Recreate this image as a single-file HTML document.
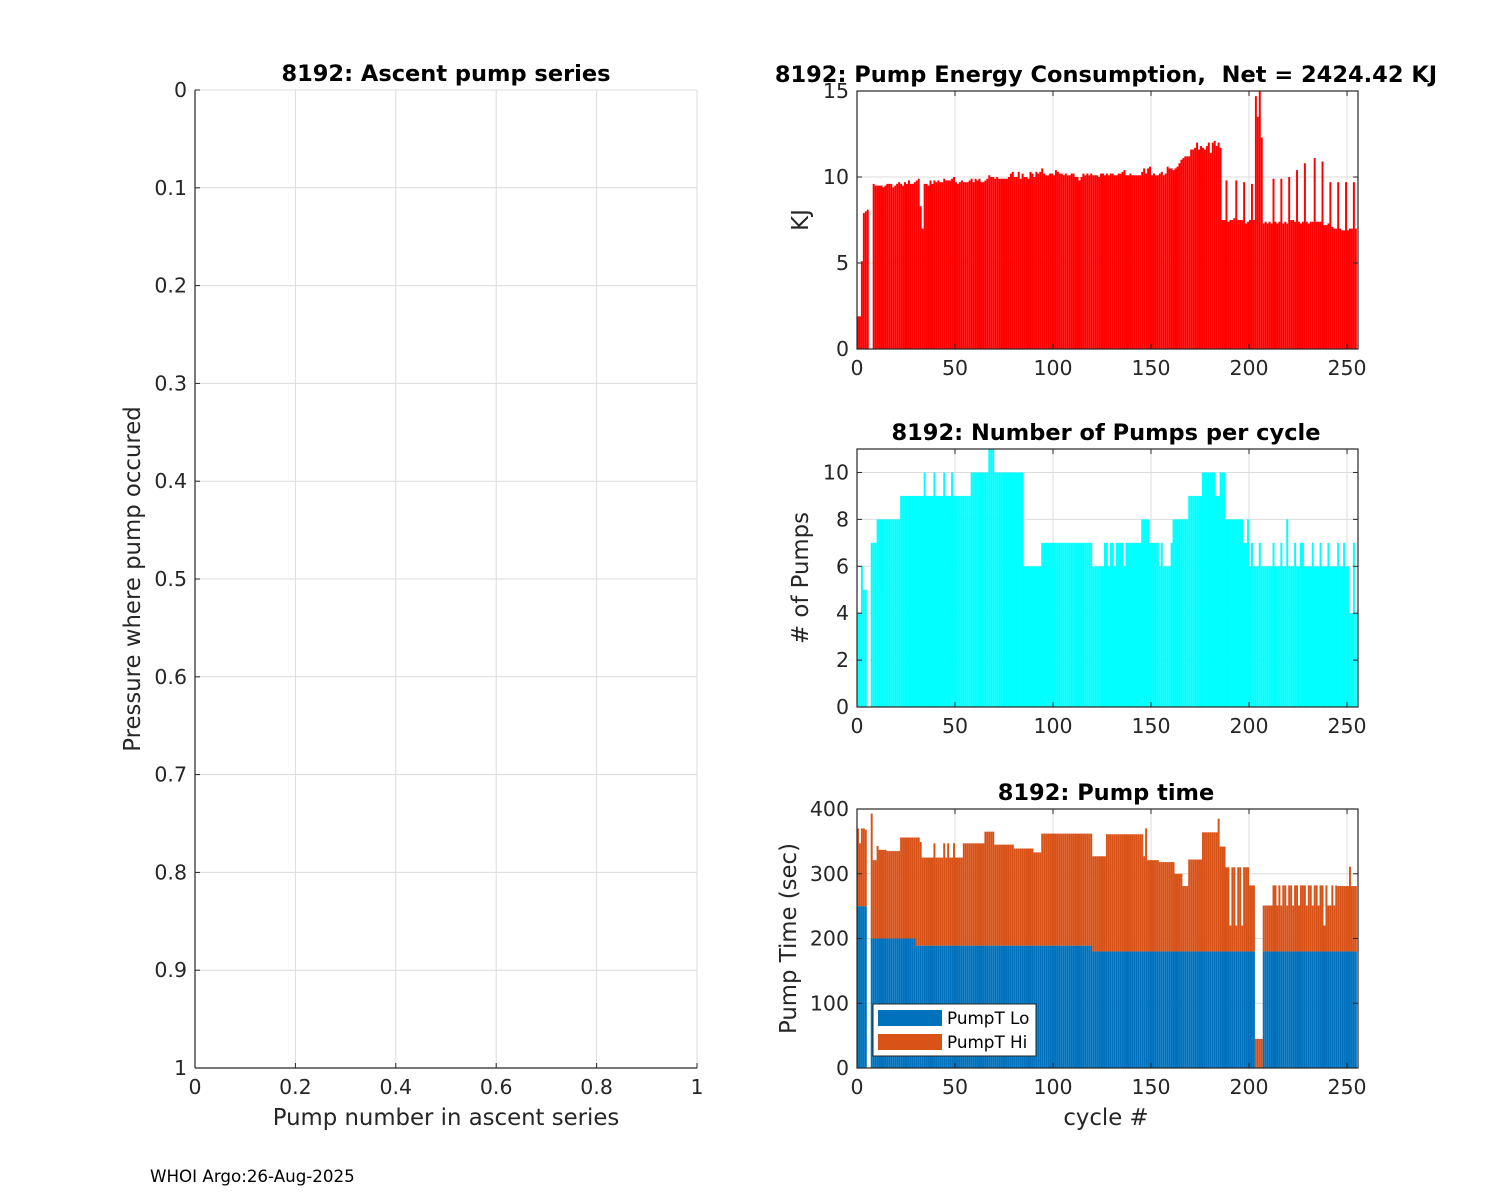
<!DOCTYPE html>
<html><head><meta charset="utf-8"><style>
html,body{margin:0;padding:0;background:#fff;}
svg{display:block;font-family:"DejaVu Sans","Liberation Sans",sans-serif;}
text{white-space:pre;}
</style></head><body>
<svg id="fig" width="1500" height="1200" viewBox="0 0 1500 1200" xmlns="http://www.w3.org/2000/svg" xml:space="preserve">
<rect x="0" y="0" width="1500" height="1200" fill="#fff"/>
<text x="150" y="1182" font-size="16.7" fill="#000">WHOI Argo:26-Aug-2025</text>
</svg>
<script>
// ---------- data ----------
const cycleTicks = [0, 50, 100, 150, 200, 250];
const energyTicks = [0, 5, 10, 15];
const pumpTicks = [0, 2, 4, 6, 8, 10];
const timeTicks = [0, 100, 200, 300, 400];
const leftXTicks = [0, 0.2, 0.4, 0.6, 0.8, 1];
const leftYTicks = [0, 0.1, 0.2, 0.3, 0.4, 0.5, 0.6, 0.7, 0.8, 0.9, 1];
const energyKJ = [
1.9,1.9,5.1,7.9,8.0,8.1,0,0,9.6,9.5,
9.5,9.5,9.5,9.4,9.5,9.6,9.6,9.6,9.4,9.5,
9.6,9.7,9.6,9.5,9.7,9.6,9.8,9.6,9.6,9.7,
9.8,9.9,8.3,7.0,9.6,9.6,9.5,9.8,9.6,9.8,
9.7,9.8,9.7,9.7,9.9,9.8,9.8,9.8,9.9,10.0,
9.7,9.6,9.7,9.8,9.7,9.7,9.7,9.8,9.9,9.7,
9.9,9.8,9.9,9.7,9.7,9.8,9.9,10.1,10.0,10.0,
9.9,10.0,9.9,9.9,9.9,9.9,9.9,10.0,10.2,10.3,
10.0,10.0,10.3,9.9,10.2,10.0,10.0,9.9,10.3,10.2,
10.0,10.3,10.2,10.3,10.5,10.2,10.1,10.1,10.2,10.2,
10.1,10.4,10.3,10.2,10.2,10.1,10.2,10.1,10.1,10.2,
10.2,10.0,10.0,9.8,10.0,10.2,10.1,10.2,10.1,10.2,
10.1,10.1,10.1,10.0,10.2,10.2,10.1,10.2,10.1,10.2,
10.2,10.1,10.1,10.2,10.2,10.3,10.4,10.1,10.1,10.2,
10.1,10.1,10.1,10.1,10.1,10.3,10.5,10.2,10.5,10.6,
10.1,10.2,10.1,10.1,10.2,10.3,10.1,10.2,10.6,10.5,
10.5,10.4,10.5,10.6,10.8,11.0,11.1,11.2,11.2,11.2,
11.6,11.6,11.7,12.0,11.6,11.8,11.7,11.6,11.8,12.0,
11.4,12.0,12.1,11.8,12.0,11.7,7.5,7.5,9.8,7.4,
7.5,7.5,7.6,9.8,7.5,7.5,7.5,9.7,7.3,7.4,
7.5,9.6,7.5,14.7,13.5,15.0,12.3,7.3,7.4,7.3,
7.4,7.3,9.9,7.4,7.3,7.4,9.9,7.3,7.4,7.3,
10.0,7.5,7.5,7.4,10.4,7.4,7.3,7.4,10.8,7.4,
7.3,7.4,7.4,11.1,7.4,7.4,7.4,10.9,7.2,7.2,
7.3,9.7,7.1,7.0,7.0,9.7,7.0,6.9,6.9,9.7,
6.9,7.0,7.0,9.7,7.0];
const pumpCount = [
4,4,6,5,5,0,0,7,7,7,
8,8,8,8,8,8,8,8,8,8,
8,8,9,9,9,9,9,9,9,9,
9,9,9,9,10,9,9,9,9,10,
9,9,9,9,10,9,9,9,10,9,
9,9,9,9,9,9,9,9,10,10,
10,10,10,10,10,10,10,11,11,11,
10,10,10,10,10,10,10,10,10,10,
10,10,10,10,10,6,6,6,6,6,
6,6,6,6,7,7,7,7,7,7,
7,7,7,7,7,7,7,7,7,7,
7,7,7,7,7,7,7,7,7,7,
6,6,6,6,6,6,7,7,6,7,
7,6,7,7,7,7,6,7,7,7,
7,7,7,7,7,8,8,8,8,7,
7,7,7,7,6,7,6,6,6,6,
7,8,8,8,8,8,8,8,8,9,
9,9,9,9,9,9,10,10,10,10,
10,10,10,9,9,10,10,10,8,8,
8,8,8,8,8,8,8,7,7,8,
6,7,6,6,6,7,6,6,6,6,
6,6,7,6,6,6,7,6,6,8,
6,6,6,7,6,6,7,7,6,6,
6,6,7,6,6,6,7,6,6,6,
7,6,6,6,6,7,6,6,7,6,
6,4,4,7,4];
const pumpTLo = [
250,250,250,250,250,0,0,200,200,200,
200,200,200,200,200,200,200,200,200,200,
200,200,200,200,200,200,200,200,200,200,
189,189,189,189,189,189,189,189,189,189,
189,189,189,189,189,189,189,189,189,189,
189,189,189,189,189,189,189,189,189,189,
189,189,189,189,189,189,189,189,189,189,
189,189,189,189,189,189,189,189,189,189,
189,189,189,189,189,189,189,189,189,189,
189,189,189,189,189,189,189,189,189,189,
189,189,189,189,189,189,189,189,189,189,
189,189,189,189,189,189,189,189,189,189,
180,180,180,180,180,180,180,180,180,180,
180,180,180,180,180,180,180,180,180,180,
180,180,180,180,180,180,180,180,180,180,
180,180,180,180,180,180,180,180,180,180,
180,180,180,180,180,180,180,180,180,180,
180,180,180,180,180,180,180,180,180,180,
180,180,180,180,180,180,180,180,180,180,
180,180,180,180,180,180,180,180,180,180,
180,180,180,0,0,0,0,180,180,180,
180,180,180,180,180,180,180,180,180,180,
180,180,180,180,180,180,180,180,180,180,
180,180,180,180,180,180,180,180,180,180,
180,180,180,180,180,180,180,180,180,180,
180,180,180,180,180];
const pumpTHi = [
120,97,120,120,118,0,0,193,121,121,
143,137,137,137,137,135,135,135,135,135,
135,135,156,156,156,156,156,156,156,156,
167,167,160,136,136,136,136,136,136,158,
136,136,136,136,158,136,158,136,136,158,
136,136,136,136,158,158,158,158,158,158,
158,158,158,158,158,176,176,176,176,176,
156,156,156,156,156,156,156,156,156,156,
150,150,150,150,150,150,150,150,150,150,
144,144,144,144,173,173,173,173,173,173,
173,173,173,173,173,173,173,173,173,173,
173,173,173,173,173,173,173,173,173,173,
147,147,147,147,147,147,147,181,181,181,
181,181,181,181,181,181,181,181,181,181,
181,181,181,181,181,181,147,190,141,141,
141,141,141,141,138,138,138,138,138,138,
138,138,120,120,120,120,101,101,101,142,
142,142,142,142,142,142,184,184,184,184,
184,184,184,184,205,162,162,162,130,130,
40,130,130,40,130,130,40,130,130,130,
102,102,102,45,45,45,45,71,71,71,
71,71,102,102,71,102,71,102,102,71,
102,102,71,102,102,71,102,102,102,71,
102,102,71,102,102,71,102,102,40,102,
71,71,102,71,102,101,101,101,101,101,
101,131,101,101,101];

// ---------- helpers ----------
const NS = "http://www.w3.org/2000/svg";
const svg = document.getElementById('fig');
function mk(tag, attrs, parent) {
  const e = document.createElementNS(NS, tag);
  for (const k in attrs) e.setAttribute(k, attrs[k]);
  (parent || svg).appendChild(e);
  return e;
}
function txt(str, x, y, size, opts, parent) {
  const e = mk('text', Object.assign({x: x, y: y, 'font-size': size, fill: '#262626'}, opts || {}), parent);
  e.textContent = str;
  return e;
}
const AX = '#262626', GRID = '#dcdcdc';
const TICK = 20.5, LAB = 22.8, TIT = 22.5;

const RX0 = 857, RX1 = 1358, XMAX = 255.6;
function xC(v) { return RX0 + v / XMAX * (RX1 - RX0); }

function panel(name, top, bot, ymax, yticks) {
  const g = mk('g', {});
  
  
  const yS = v => bot - v / ymax * (bot - top);
  cycleTicks.forEach(t => mk('line', {x1: xC(t), x2: xC(t), y1: top, y2: bot, stroke: GRID, 'stroke-width': 1}, g));
  yticks.forEach(t => mk('line', {x1: RX0, x2: RX1, y1: yS(t), y2: yS(t), stroke: GRID, 'stroke-width': 1}, g));
  return {g: g, yS: yS, top: top, bot: bot};
}
function frame(p, ymax, yticks, title, ylabel, ylabelX, xlabel) {
  const g = p.g;
  mk('rect', {x: RX0, y: p.top, width: RX1 - RX0, height: p.bot - p.top, fill: 'none', stroke: AX, 'stroke-width': 1.2}, g);
  cycleTicks.forEach(t => {
    const x = xC(t);
    mk('line', {x1: x, x2: x, y1: p.bot, y2: p.bot - 5, stroke: AX}, g);
    mk('line', {x1: x, x2: x, y1: p.top, y2: p.top + 5, stroke: AX}, g);
    const l = txt(String(t), x, p.bot + 26, TICK, {'text-anchor': 'middle'}, g);
    
    
  });
  yticks.forEach(t => {
    const y = p.yS(t);
    mk('line', {x1: RX0, x2: RX0 + 5, y1: y, y2: y, stroke: AX}, g);
    mk('line', {x1: RX1, x2: RX1 - 5, y1: y, y2: y, stroke: AX}, g);
    const l = txt(String(t), RX0 - 8, y + 7, TICK, {'text-anchor': 'end'}, g);
    
    
  });
  const tt = txt(title, 1106, p.top - 9, TIT, {'text-anchor': 'middle', 'font-weight': 'bold', fill: '#000'}, g);
  
  
  const cy = (p.top + p.bot) / 2;
  const yl = txt(ylabel, ylabelX, cy, LAB, {'text-anchor': 'middle', transform: 'rotate(-90 ' + ylabelX + ' ' + cy + ')'}, g);
  
  
  if (xlabel) {
    const xl = txt(xlabel, 1106, p.bot + 57, LAB, {'text-anchor': 'middle'}, g);
    
    
  }
}

// ---------- left panel ----------
(function () {
  const L = 195, R = 697, T = 90, B = 1068;
  const g = mk('g', {});
  
  
  const xS = v => L + v * (R - L), yS = v => T + v * (B - T);
  leftXTicks.forEach(t => mk('line', {x1: xS(t), x2: xS(t), y1: T, y2: B, stroke: GRID}, g));
  leftYTicks.forEach(t => mk('line', {x1: L, x2: R, y1: yS(t), y2: yS(t), stroke: GRID}, g));
  mk('line', {x1: L, x2: L, y1: T, y2: B, stroke: AX, 'stroke-width': 1.2}, g);
  mk('line', {x1: L, x2: R, y1: B, y2: B, stroke: AX, 'stroke-width': 1.2}, g);
  leftXTicks.forEach(t => {
    mk('line', {x1: xS(t), x2: xS(t), y1: B, y2: B - 5, stroke: AX}, g);
    const l = txt(String(t), xS(t), B + 26, TICK, {'text-anchor': 'middle'}, g);
    
    
  });
  leftYTicks.forEach(t => {
    mk('line', {x1: L, x2: L + 5, y1: yS(t), y2: yS(t), stroke: AX}, g);
    const l = txt(String(t), L - 8, yS(t) + 7, TICK, {'text-anchor': 'end'}, g);
    
    
  });
  const t1 = txt('8192: Ascent pump series', 446, 81, TIT, {'text-anchor': 'middle', 'font-weight': 'bold', fill: '#000'}, g);
  
  
  const t2 = txt('Pump number in ascent series', 446, 1125, LAB, {'text-anchor': 'middle'}, g);
  
  
  const t3 = txt('Pressure where pump occured', 140, 579, LAB, {'text-anchor': 'middle', transform: 'rotate(-90 140 579)'}, g);
  
  
})();

// ---------- energy panel ----------
(function () {
  const p = panel('energy-chart', 91, 349, 15, energyTicks);
  energyKJ.forEach((v, i) => {
    if (v <= 0) return;
    const r = mk('rect', {x: xC(i), y: p.yS(v), width: xC(i + 1) - xC(i), height: p.bot - p.yS(v), fill: '#ff0000'}, p.g);
    
    
  });
  frame(p, 15, energyTicks, '8192: Pump Energy Consumption,  Net = 2424.42 KJ', 'KJ', 808);
})();

// ---------- pump count panel ----------
(function () {
  const p = panel('pump-count-chart', 449, 707, 11, pumpTicks);
  pumpCount.forEach((v, i) => {
    if (v <= 0) return;
    const r = mk('rect', {x: xC(i), y: p.yS(v), width: xC(i + 1) - xC(i), height: p.bot - p.yS(v), fill: '#00ffff'}, p.g);
    
    
  });
  frame(p, 11, pumpTicks, '8192: Number of Pumps per cycle', '# of Pumps', 808);
})();

// ---------- pump time panel ----------
(function () {
  const p = panel('pump-time-chart', 809, 1068, 400, timeTicks);
  pumpTLo.forEach((v, i) => {
    const hi = pumpTHi[i];
    const x = xC(i), w = xC(i + 1) - xC(i);
    if (v > 0) {
      const r = mk('rect', {x: x, y: p.yS(v), width: w, height: p.bot - p.yS(v), fill: '#0072bd'}, p.g);
      
      
    }
    if (hi > 0) {
      const r2 = mk('rect', {x: x, y: p.yS(v + hi), width: w, height: p.yS(v) - p.yS(v + hi), fill: '#d95319'}, p.g);
      
      
    }
  });
  frame(p, 400, timeTicks, '8192: Pump time', 'Pump Time (sec)', 796, 'cycle #');
  const lg = mk('g', {}, p.g);
  
  
  mk('rect', {x: 873, y: 1004, width: 163, height: 52, fill: '#fff', stroke: AX, 'stroke-width': 1}, lg);
  mk('rect', {x: 878, y: 1010, width: 64, height: 16, fill: '#0072bd'}, lg);
  mk('rect', {x: 878, y: 1034, width: 64, height: 16, fill: '#d95319'}, lg);
  const a = txt('PumpT Lo', 947, 1024, 16.8, {fill: '#000'}, lg);
  
  
  const b = txt('PumpT Hi', 947, 1048, 16.8, {fill: '#000'}, lg);
  
  
})();
</script>
</body></html>
